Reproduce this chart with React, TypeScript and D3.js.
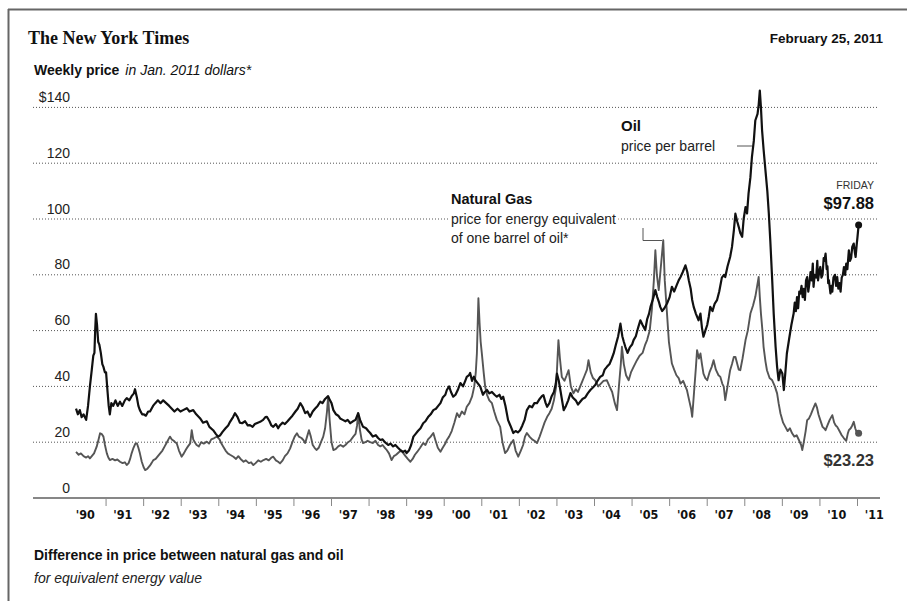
import React from "react";
import * as d3 from "d3";

// weekly prices in Jan. 2011 dollars as [decimal year, value]
const oil: [number, number][] = [
  [1990.2, 32], [1990.25, 30], [1990.3, 31.5], [1990.35, 29], [1990.4, 30], [1990.47, 28],
  [1990.52, 33], [1990.57, 40], [1990.62, 46], [1990.66, 51], [1990.69, 52], [1990.71, 60],
  [1990.73, 66], [1990.76, 62], [1990.79, 56], [1990.82, 55], [1990.86, 52], [1990.9, 48],
  [1990.93, 47], [1990.97, 45], [1991.0, 45], [1991.04, 38], [1991.07, 33], [1991.1, 30],
  [1991.14, 34], [1991.19, 33], [1991.25, 35], [1991.31, 33], [1991.37, 34.5], [1991.43, 33],
  [1991.5, 35], [1991.55, 35.8], [1991.62, 35], [1991.68, 36.5], [1991.74, 37.5], [1991.77, 39],
  [1991.82, 36], [1991.86, 33], [1991.9, 31.5], [1991.96, 30], [1992.0, 30], [1992.06, 29.5],
  [1992.12, 31], [1992.17, 31], [1992.25, 33], [1992.31, 34], [1992.38, 35], [1992.45, 34],
  [1992.52, 35], [1992.6, 34], [1992.68, 33], [1992.75, 32], [1992.82, 31], [1992.9, 32],
  [1992.98, 31], [1993.05, 31.5], [1993.15, 32.2], [1993.22, 31], [1993.32, 31.5], [1993.4, 30],
  [1993.5, 28.6], [1993.58, 27], [1993.68, 27.5], [1993.75, 25.5], [1993.85, 24.3], [1993.92, 23],
  [1993.98, 22], [1994.04, 22.5], [1994.1, 23.7], [1994.18, 25], [1994.25, 26], [1994.3, 27.3],
  [1994.38, 29], [1994.43, 30.4], [1994.5, 29], [1994.56, 27], [1994.62, 26.8], [1994.7, 27.5],
  [1994.77, 26], [1994.83, 26.1], [1994.9, 25.5], [1994.96, 26.5], [1995.04, 27], [1995.1, 27.3],
  [1995.18, 28], [1995.24, 29], [1995.28, 29.1], [1995.35, 27.5], [1995.4, 26], [1995.45, 25.5],
  [1995.52, 26.5], [1995.58, 25], [1995.63, 26.1], [1995.7, 27], [1995.76, 26.5], [1995.83, 27.5],
  [1995.9, 28.6], [1995.96, 29.5], [1996.04, 31], [1996.1, 32], [1996.17, 34], [1996.23, 32.7],
  [1996.3, 30.4], [1996.36, 31], [1996.43, 29.1], [1996.5, 31], [1996.56, 32], [1996.63, 33],
  [1996.7, 34.5], [1996.76, 34], [1996.83, 35.5], [1996.91, 36.5], [1996.96, 35], [1997.0, 34],
  [1997.05, 31.5], [1997.12, 30], [1997.18, 29.5], [1997.23, 28.5], [1997.3, 28], [1997.37, 27.5],
  [1997.43, 28], [1997.5, 26.8], [1997.57, 27.5], [1997.64, 28], [1997.71, 30.4], [1997.76, 28],
  [1997.84, 25.5], [1997.92, 25], [1997.98, 24], [1998.03, 23.3], [1998.1, 22], [1998.18, 22.5],
  [1998.24, 21.5], [1998.3, 20.8], [1998.36, 21], [1998.42, 20], [1998.51, 19], [1998.57, 19.5],
  [1998.64, 18.5], [1998.7, 19], [1998.77, 18], [1998.83, 17.2], [1998.9, 16.5], [1998.96, 17],
  [1999.0, 16.1], [1999.06, 17], [1999.12, 19], [1999.18, 22], [1999.24, 23], [1999.3, 24],
  [1999.37, 25], [1999.44, 26.8], [1999.5, 27.5], [1999.57, 29], [1999.64, 30], [1999.71, 31.5],
  [1999.78, 32], [1999.84, 33], [1999.9, 34], [1999.96, 36], [2000.03, 37], [2000.07, 38.7],
  [2000.13, 40], [2000.18, 38], [2000.24, 36.3], [2000.3, 37], [2000.37, 39], [2000.43, 41.2],
  [2000.5, 40], [2000.56, 42], [2000.6, 43.4], [2000.66, 44], [2000.69, 44.8], [2000.74, 42],
  [2000.79, 43.5], [2000.83, 42.2], [2000.9, 41], [2000.96, 39.9], [2001.03, 37], [2001.08, 38],
  [2001.14, 38.7], [2001.2, 37.5], [2001.27, 38], [2001.34, 37], [2001.4, 36.3], [2001.47, 37],
  [2001.52, 35.5], [2001.57, 36.3], [2001.63, 33], [2001.7, 27.9], [2001.76, 26], [2001.84, 23.3],
  [2001.9, 24], [2001.96, 23.5], [2002.02, 24.3], [2002.08, 26], [2002.14, 28], [2002.2, 31.5],
  [2002.27, 33], [2002.34, 32.5], [2002.4, 34], [2002.47, 34], [2002.54, 35.5], [2002.6, 36.5],
  [2002.64, 36.9], [2002.7, 34], [2002.74, 32.7], [2002.8, 34], [2002.86, 36.5], [2002.92, 38],
  [2002.97, 41], [2003.0, 44.6], [2003.05, 42], [2003.1, 38], [2003.18, 31.5], [2003.24, 33],
  [2003.3, 35], [2003.36, 37.6], [2003.42, 36], [2003.5, 35], [2003.56, 33.5], [2003.62, 34.5],
  [2003.68, 35.5], [2003.75, 36], [2003.82, 37.5], [2003.89, 38.7], [2003.95, 39.5], [2004.02, 40.5],
  [2004.08, 42], [2004.15, 43.4], [2004.22, 44], [2004.27, 46], [2004.33, 47], [2004.4, 48],
  [2004.46, 50], [2004.51, 51.8], [2004.57, 55], [2004.63, 58], [2004.69, 62.5], [2004.74, 58],
  [2004.78, 56], [2004.82, 54.2], [2004.88, 52], [2004.94, 54], [2005.0, 55], [2005.04, 56.6],
  [2005.1, 58], [2005.16, 61], [2005.22, 63.7], [2005.28, 62], [2005.35, 60.2], [2005.4, 64],
  [2005.45, 66], [2005.49, 68.5], [2005.55, 71], [2005.62, 74.5], [2005.67, 72], [2005.72, 70],
  [2005.75, 68.5], [2005.8, 67], [2005.86, 68], [2005.93, 69.7], [2006.0, 72], [2006.06, 75.7],
  [2006.12, 74], [2006.18, 76], [2006.24, 78], [2006.29, 79.2], [2006.35, 81], [2006.42, 83.4],
  [2006.47, 81], [2006.51, 78], [2006.56, 75], [2006.6, 71], [2006.64, 68.5], [2006.7, 66],
  [2006.77, 63.7], [2006.82, 66.1], [2006.86, 61], [2006.9, 57.8], [2006.95, 60], [2007.0, 62],
  [2007.04, 64.9], [2007.08, 68.5], [2007.14, 67], [2007.2, 69.7], [2007.26, 70.9], [2007.32, 74],
  [2007.39, 79], [2007.45, 80], [2007.48, 79.2], [2007.54, 83], [2007.61, 86.4], [2007.66, 90],
  [2007.71, 96], [2007.75, 101.9], [2007.8, 99], [2007.84, 97.1], [2007.88, 95], [2007.93, 93.6],
  [2007.97, 100], [2008.02, 104.3], [2008.06, 102], [2008.1, 109.1], [2008.15, 115], [2008.19, 122.2],
  [2008.24, 128], [2008.28, 135.3], [2008.34, 137.7], [2008.37, 141], [2008.4, 146], [2008.43, 140],
  [2008.46, 131.8], [2008.5, 125], [2008.55, 117.4], [2008.6, 110], [2008.64, 101.9], [2008.68, 92],
  [2008.73, 78], [2008.77, 66], [2008.82, 54.2], [2008.86, 47], [2008.9, 42.2], [2008.95, 46],
  [2009.0, 44.6], [2009.04, 38.7], [2009.08, 45], [2009.12, 51.8], [2009.18, 57], [2009.24, 62],
  [2009.3, 66.1], [2009.33, 70], [2009.36, 67], [2009.39, 72], [2009.42, 68], [2009.45, 74],
  [2009.48, 73.3], [2009.51, 76], [2009.54, 72], [2009.57, 75], [2009.6, 71], [2009.63, 78],
  [2009.66, 79.2], [2009.69, 74], [2009.72, 77], [2009.75, 81], [2009.78, 78], [2009.81, 84],
  [2009.83, 75.7], [2009.86, 80], [2009.9, 79], [2009.93, 85], [2009.95, 78], [2009.98, 81],
  [2010.01, 82.8], [2010.04, 79], [2010.07, 80], [2010.1, 86], [2010.12, 85], [2010.15, 87.6],
  [2010.18, 82], [2010.2, 83], [2010.22, 77], [2010.24, 78], [2010.28, 73.3], [2010.31, 76],
  [2010.33, 74], [2010.36, 79], [2010.4, 80], [2010.43, 76], [2010.46, 79.2], [2010.49, 75],
  [2010.52, 77], [2010.55, 74], [2010.58, 79], [2010.61, 80], [2010.64, 82.8], [2010.67, 80],
  [2010.7, 84], [2010.73, 82], [2010.77, 88.8], [2010.8, 85], [2010.83, 86], [2010.86, 90],
  [2010.9, 91.2], [2010.93, 88], [2010.95, 86.4], [2010.98, 91], [2011.0, 93.6], [2011.03, 97.88],
];

const gas: [number, number][] = [
  [1990.2, 16.5], [1990.27, 15.5], [1990.33, 16], [1990.4, 15], [1990.47, 14.5], [1990.52, 15],
  [1990.57, 14.2], [1990.62, 15], [1990.68, 16], [1990.75, 18.4], [1990.8, 21], [1990.84, 23.2],
  [1990.88, 23], [1990.93, 22], [1990.97, 19], [1991.02, 16], [1991.06, 14.5], [1991.1, 13.6],
  [1991.17, 14], [1991.24, 13.5], [1991.3, 13.8], [1991.37, 13], [1991.44, 12.5], [1991.5, 12.8],
  [1991.55, 11.8], [1991.6, 12.5], [1991.64, 14], [1991.68, 16], [1991.73, 18], [1991.78, 19.5],
  [1991.82, 19.6], [1991.86, 18], [1991.9, 16], [1991.95, 13], [1992.0, 11], [1992.04, 10],
  [1992.1, 10.5], [1992.16, 11.5], [1992.21, 12.5], [1992.26, 13.6], [1992.32, 14], [1992.38, 15],
  [1992.44, 16], [1992.5, 17], [1992.56, 18.5], [1992.62, 20], [1992.66, 21], [1992.7, 22],
  [1992.75, 21], [1992.8, 20.5], [1992.84, 20], [1992.88, 19.6], [1992.94, 17], [1993.01, 14.8],
  [1993.07, 16], [1993.13, 17.5], [1993.18, 18.5], [1993.24, 19.6], [1993.28, 24.3], [1993.32, 21],
  [1993.36, 20], [1993.41, 19], [1993.47, 18.5], [1993.53, 20], [1993.6, 19.5], [1993.68, 20.2],
  [1993.74, 19.5], [1993.8, 21], [1993.88, 21.5], [1993.95, 22], [1994.02, 21], [1994.07, 19.5],
  [1994.12, 18.4], [1994.18, 17], [1994.24, 16], [1994.3, 15.5], [1994.39, 14.8], [1994.46, 14],
  [1994.52, 15], [1994.58, 14], [1994.66, 13], [1994.72, 13.5], [1994.8, 12.5], [1994.86, 12.8],
  [1994.92, 11.8], [1994.98, 12.5], [1995.05, 13.5], [1995.12, 13], [1995.19, 13.6], [1995.26, 14],
  [1995.33, 13.5], [1995.4, 14.5], [1995.45, 14.8], [1995.52, 13.5], [1995.58, 13], [1995.63, 12.4],
  [1995.7, 13.5], [1995.76, 15], [1995.83, 16], [1995.9, 17.8], [1995.96, 20], [1996.02, 22],
  [1996.08, 23.2], [1996.13, 22], [1996.2, 21.5], [1996.25, 20.8], [1996.3, 19.7], [1996.35, 22],
  [1996.4, 24.3], [1996.45, 22], [1996.5, 19], [1996.55, 18], [1996.6, 17.2], [1996.66, 18],
  [1996.72, 20], [1996.78, 22], [1996.83, 25], [1996.88, 31], [1996.91, 36.3], [1996.95, 28],
  [1997.0, 20], [1997.05, 17.2], [1997.11, 17.5], [1997.18, 18.5], [1997.24, 19], [1997.31, 18.4],
  [1997.37, 19], [1997.44, 20], [1997.5, 20.5], [1997.58, 22], [1997.64, 23], [1997.68, 26],
  [1997.71, 30.4], [1997.75, 25], [1997.8, 21], [1997.84, 19.7], [1997.9, 20], [1997.96, 20.5],
  [1998.03, 20], [1998.1, 19.7], [1998.17, 20.5], [1998.24, 19], [1998.3, 18.5], [1998.36, 19],
  [1998.42, 18], [1998.47, 17.2], [1998.53, 16], [1998.6, 13.6], [1998.66, 15], [1998.72, 15.5],
  [1998.8, 16.5], [1998.86, 17], [1998.91, 16.1], [1998.97, 15], [1999.03, 14], [1999.1, 13],
  [1999.16, 14], [1999.22, 15.5], [1999.28, 16.5], [1999.36, 18], [1999.44, 19.7], [1999.5, 19],
  [1999.57, 21], [1999.64, 22], [1999.71, 23.3], [1999.76, 21], [1999.83, 18], [1999.9, 16.6],
  [1999.96, 18], [2000.03, 19.5], [2000.07, 20.8], [2000.13, 22], [2000.2, 24], [2000.27, 27],
  [2000.34, 30.4], [2000.4, 29], [2000.47, 31], [2000.54, 30], [2000.6, 32.7], [2000.67, 34],
  [2000.74, 36.3], [2000.8, 40], [2000.84, 45], [2000.87, 51.9], [2000.91, 71.6], [2000.94, 63],
  [2000.97, 56], [2001.0, 52], [2001.05, 45], [2001.09, 39.9], [2001.14, 37], [2001.2, 35],
  [2001.27, 34], [2001.33, 31], [2001.4, 28], [2001.49, 25.5], [2001.55, 20], [2001.62, 16.1],
  [2001.68, 17], [2001.75, 19], [2001.84, 20.8], [2001.9, 17], [2001.97, 14.8], [2002.04, 17],
  [2002.1, 19], [2002.15, 22], [2002.2, 23.3], [2002.27, 22], [2002.34, 21], [2002.4, 20.5],
  [2002.47, 19.7], [2002.54, 22], [2002.6, 24.3], [2002.67, 27], [2002.74, 29.1], [2002.8, 30.4],
  [2002.86, 32], [2002.92, 35], [2002.98, 40], [2003.04, 56.6], [2003.08, 50], [2003.13, 43.4],
  [2003.2, 42], [2003.26, 44], [2003.31, 45.8], [2003.37, 40], [2003.44, 37.5], [2003.5, 39],
  [2003.56, 38], [2003.62, 40], [2003.68, 42], [2003.74, 44], [2003.8, 46], [2003.84, 49.4],
  [2003.9, 45], [2003.96, 43], [2004.02, 42.2], [2004.1, 40], [2004.17, 41], [2004.24, 42],
  [2004.33, 42.2], [2004.4, 40], [2004.47, 38], [2004.54, 34], [2004.6, 31.5], [2004.65, 40],
  [2004.7, 48], [2004.73, 54.2], [2004.78, 48], [2004.84, 44], [2004.91, 42.2], [2004.97, 45],
  [2005.04, 47], [2005.13, 49.4], [2005.2, 51], [2005.28, 52], [2005.35, 55], [2005.4, 56.6],
  [2005.47, 60], [2005.53, 68], [2005.58, 78], [2005.62, 88.8], [2005.66, 80], [2005.71, 74.5],
  [2005.76, 82], [2005.8, 88], [2005.83, 92.4], [2005.87, 78], [2005.93, 66.1], [2005.98, 56],
  [2006.06, 48.2], [2006.12, 46], [2006.18, 44], [2006.24, 43], [2006.29, 41], [2006.36, 42],
  [2006.42, 40], [2006.46, 38.7], [2006.52, 35], [2006.57, 32], [2006.6, 29.1], [2006.65, 38],
  [2006.7, 47], [2006.73, 53], [2006.78, 50], [2006.82, 51.8], [2006.86, 48], [2006.9, 44.6],
  [2006.95, 43], [2007.0, 42.2], [2007.06, 45], [2007.12, 47], [2007.17, 49.4], [2007.23, 46],
  [2007.3, 44], [2007.35, 43.4], [2007.4, 41], [2007.44, 39.9], [2007.48, 35.1], [2007.54, 40],
  [2007.61, 45.8], [2007.66, 48], [2007.71, 50.6], [2007.75, 50.6], [2007.8, 48], [2007.84, 46],
  [2007.88, 45.8], [2007.94, 50], [2008.02, 56.6], [2008.08, 60], [2008.15, 66.1], [2008.22, 69],
  [2008.28, 72.1], [2008.33, 76], [2008.37, 79.2], [2008.4, 72], [2008.43, 66.1], [2008.47, 60],
  [2008.5, 54.2], [2008.55, 49], [2008.59, 45.8], [2008.66, 43], [2008.73, 42.2], [2008.8, 40],
  [2008.86, 37.5], [2008.9, 34], [2008.95, 30.3], [2009.02, 27], [2009.08, 25.5], [2009.14, 24],
  [2009.2, 25], [2009.26, 23.2], [2009.32, 22], [2009.38, 22.5], [2009.44, 20.8], [2009.5, 19],
  [2009.53, 17.2], [2009.57, 20], [2009.62, 24], [2009.66, 27.9], [2009.71, 28.5], [2009.76, 30],
  [2009.82, 32], [2009.88, 33.9], [2009.92, 32.5], [2009.96, 30], [2010.01, 27.9], [2010.07, 25.5],
  [2010.11, 25], [2010.15, 24.3], [2010.2, 26], [2010.26, 28], [2010.33, 29.7], [2010.38, 27],
  [2010.42, 26], [2010.46, 25.5], [2010.52, 24], [2010.58, 22.5], [2010.64, 21.4], [2010.7, 20.5],
  [2010.74, 23], [2010.77, 24.3], [2010.82, 25], [2010.86, 26], [2010.9, 27.3], [2010.94, 25],
  [2010.98, 23.5], [2011.01, 22.8], [2011.03, 23.23],
];

const yTicks = [0, 20, 40, 60, 80, 100, 120, 140];
const years = d3.range(1990, 2011 + 1);

const sans = "'Liberation Sans', Arial, sans-serif";
const narrow = "'DejaVu Sans Condensed', 'Liberation Sans Narrow', sans-serif";

export default function App() {
  const x = d3.scaleLinear().domain([1990, 2011]).range([68.5, 857.5]);
  const y = d3.scaleLinear().domain([0, 140]).range([498, 107.4]);

  const line = d3
    .line<[number, number]>()
    .x((d) => x(d[0]))
    .y((d) => y(d[1]));

  const lastOil = oil[oil.length - 1];
  const lastGas = gas[gas.length - 1];
  const halo = { stroke: "#fff", strokeWidth: 5, paintOrder: "stroke" as const };

  return (
    <svg
      width={907}
      height={601}
      style={{ position: "absolute", left: 0, top: 0, background: "#fff" }}
    >
      <rect width={907} height={601} fill="#fff" />
      {/* frame */}
      <line x1={8} x2={907} y1={9.5} y2={9.5} stroke="#666" strokeWidth={2} />
      <line x1={8.5} x2={8.5} y1={9} y2={601} stroke="#666" strokeWidth={2} />

      <text x={28} y={44} fontFamily="'Liberation Serif', serif" fontWeight="bold" fontSize={18} fill="#111">
        The New York Times
      </text>
      <text x={883} y={43} textAnchor="end" fontFamily={sans} fontWeight="bold" fontSize={13.5} fill="#111">
        February 25, 2011
      </text>
      <text x={34} y={75} fontFamily={sans} fontSize={14} fill="#111">
        <tspan fontWeight="bold">Weekly price</tspan>
        <tspan fontStyle="italic" dx={6}>in Jan. 2011 dollars*</tspan>
      </text>

      {/* grid */}
      {yTicks.filter((t) => t > 0).map((t) => (
        <line
          key={t}
          x1={33}
          x2={878}
          y1={y(t)}
          y2={y(t)}
          stroke="#555"
          strokeWidth={1}
          strokeDasharray="1,2"
        />
      ))}
      {yTicks.map((t) => (
        <text
          key={t}
          x={70}
          y={y(t) - 5.5}
          textAnchor="end"
          fontFamily={sans}
          fontSize={14}
          fill="#222"
        >
          {t === 140 ? "$140" : t}
        </text>
      ))}

      {/* x axis */}
      <line x1={33} x2={880} y1={498} y2={498} stroke="#111" strokeWidth={1.2} />
      {years.filter((yr) => yr > 1990).map((yr) => (
        <line key={yr} x1={x(yr)} x2={x(yr)} y1={498} y2={506} stroke="#888" strokeWidth={1} />
      ))}
      {years.map((yr) => (
        <text
          key={yr}
          x={x(yr + 0.5) - 2}
          y={519}
          textAnchor="middle"
          fontFamily={narrow}
          fontWeight="bold"
          fontSize={12.5}
          fill="#111"
        >
          {"'" + String(yr).slice(2)}
        </text>
      ))}

      {/* series */}
      <path d={line(gas) ?? ""} fill="none" stroke="#555" strokeWidth={1.9} strokeLinejoin="round" />
      <path d={line(oil) ?? ""} fill="none" stroke="#111" strokeWidth={2.2} strokeLinejoin="round" />
      <circle cx={x(lastOil[0])} cy={y(lastOil[1])} r={3.5} fill="#111" />
      <circle cx={x(lastGas[0])} cy={y(lastGas[1])} r={3.5} fill="#555" />

      {/* annotations */}
      <text x={621} y={131} fontFamily={sans} fontWeight="bold" fontSize={15} fill="#111">Oil</text>
      <text x={621} y={151} fontFamily={sans} fontSize={14} fill="#222">price per barrel</text>
      <line x1={737} x2={752} y1={146} y2={146} stroke="#555" strokeWidth={1} />

      <g fontFamily={sans} fill="#222">
        <text x={451} y={204} fontWeight="bold" fontSize={14.5} fill="#111" {...halo}>Natural Gas</text>
        <text x={451} y={224} fontSize={14} {...halo}>price for energy equivalent</text>
        <text x={451} y={243} fontSize={14} {...halo}>of one barrel of oil*</text>
      </g>
      <path d="M643,228V240.5H662" fill="none" stroke="#555" strokeWidth={1} />

      <text x={874} y={189} textAnchor="end" fontFamily={sans} fontSize={10.5} fill="#333">FRIDAY</text>
      <text x={874} y={209} textAnchor="end" fontFamily={sans} fontWeight="bold" fontSize={16.5} fill="#111">
        ${lastOil[1].toFixed(2)}
      </text>
      <text x={874} y={466} textAnchor="end" fontFamily={sans} fontWeight="bold" fontSize={16.5} fill="#333">
        ${lastGas[1].toFixed(2)}
      </text>

      {/* footer */}
      <text x={34} y={560} fontFamily={sans} fontWeight="bold" fontSize={14} fill="#111">
        Difference in price between natural gas and oil
      </text>
      <text x={34} y={583} fontFamily={sans} fontStyle="italic" fontSize={14} fill="#222">
        for equivalent energy value
      </text>
    </svg>
  );
}
